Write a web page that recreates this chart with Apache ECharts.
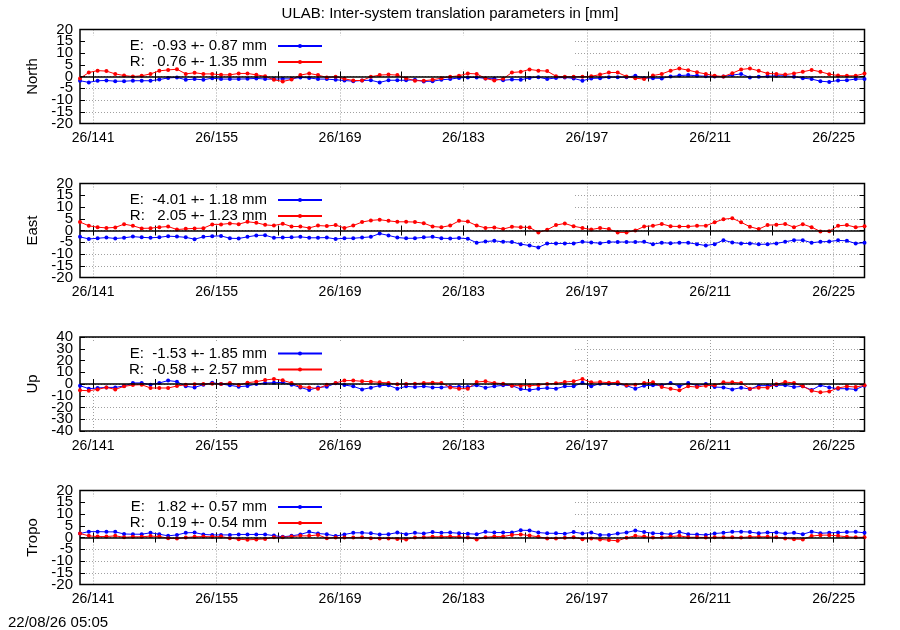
<!DOCTYPE html>
<html>
<head>
<meta charset="utf-8">
<script src="https://cdn.jsdelivr.net/npm/echarts@6/dist/echarts.min.js"></script>
<style>
html, body { margin: 0; padding: 0; background: #fff; }
#chart { width: 900px; height: 630px; }
</style>
</head>
<body>
<div id="chart"></div>
<script>
// day of year (noon), 2026
var days = [139.5, 140.5, 141.5, 142.5, 143.5, 144.5, 145.5, 146.5, 147.5, 148.5,
    149.5, 150.5, 151.5, 152.5, 153.5, 154.5, 155.5, 156.5, 157.5, 158.5,
    159.5, 160.5, 161.5, 162.5, 163.5, 164.5, 165.5, 166.5, 167.5, 168.5,
    169.5, 170.5, 171.5, 172.5, 173.5, 174.5, 175.5, 176.5, 177.5, 178.5,
    179.5, 180.5, 181.5, 182.5, 183.5, 184.5, 185.5, 186.5, 187.5, 188.5,
    189.5, 190.5, 191.5, 192.5, 193.5, 194.5, 195.5, 196.5, 197.5, 198.5,
    199.5, 200.5, 201.5, 202.5, 203.5, 204.5, 205.5, 206.5, 207.5, 208.5,
    209.5, 210.5, 211.5, 212.5, 213.5, 214.5, 215.5, 216.5, 217.5, 218.5,
    219.5, 220.5, 221.5, 222.5, 223.5, 224.5, 225.5, 226.5, 227.5, 228.5];
var xTicks = [141, 148, 155, 162, 169, 176, 183, 190, 197, 204, 211, 218, 225];
var xLabels = [141, 155, 169, 183, 197, 211, 225];
var yLabels20 = [-20, -15, -10, -5, 0, 5, 10, 15, 20];
var yLabels40 = [-40, -30, -20, -10, 0, 10, 20, 30, 40];

var northE = [-1.8, -2.5, -1.8, -1.7, -2.0, -2.0, -1.8, -1.8, -1.8, -1.3,
    -0.6, -0.4, -1.4, -1.1, -1.4, -0.7, -1.1, -1.1, -1.1, -1.0,
    -0.8, -1.1, -1.1, -1.0, -1.0, -0.4, -0.6, -1.1, -1.1, -1.4,
    -1.7, -2.0, -1.7, -1.6, -2.5, -1.6, -1.6, -1.6, -1.4, -2.1,
    -2.0, -1.4, -1.1,
    -0.6, -0.4, -0.4, -0.8, -1.0, -1.6, -1.3, -1.4, -0.6, -0.3,
    -1.1, -0.6, -0.4, -0.8, -1.8, -0.8, -0.7, -0.3, -0.3, -0.3,
    0.3, -0.6, -0.7, -0.8, 0, 0.4, 0.6, 0.3, 0.1, 0,
    0, 0.6, 1.1, -0.4, -0.1, 0.1, 0.3, 0.3, -0.1, -0.7,
    -1.1, -2.0, -2.3, -1.7, -1.6, -1.1, -1.1];
var northR = [-0.8, 1.7, 2.5, 2.3, 1.1, 0.4, 0, 0.3, 1.1, 2.4,
    2.8, 3.1, 1.1, 1.6, 1.1, 1.1, 0.7, 0.7, 1.3, 1.3,
    0.7, 0.1, -1.4, -2.1, -1.3, 0.6, 1.3, 0.6, -0.4, -0.1,
    -1.0, -1.7, -1.7, -0.1, 0.6, 0.8, 0.6, -0.8, -1.8, -1.8,
    -1.4, -0.7, -0.1,
    0.3, 1.3, 1.1, -0.8, -1.7, -1.0, 1.7, 2.0, 3.0, 2.5,
    2.3, 0.1, -0.1, -0.1, -0.1, 0.1, 0.8, 1.7, 1.7, 0,
    -0.7, -1.1, 0.4, 1.1, 2.5, 3.4, 2.7, 1.8, 1.1, 0.3,
    0, 1.4, 3.0, 3.4, 2.4, 1.3, 1.1, 0.8, 1.3, 2.0,
    2.8, 2.0, 1.0, 0.4, 0.3, 0.3, 1.3];
var eastE = [-2.7, -3.6, -3.3, -3.0, -3.4, -3.1, -2.6, -2.9, -3.1, -2.9,
    -2.4, -2.6, -2.9, -3.7, -2.7, -2.4, -2.3, -3.3, -3.4, -2.7,
    -2.1, -2.0, -3.1, -3.0, -2.9, -2.7, -3.1, -3.1, -3.0, -3.6,
    -3.3, -3.3, -3.0, -2.7, -1.3, -2.1, -3.0, -3.3, -3.3, -2.9,
    -2.7, -3.3, -3.4,
    -3.2, -3.5, -5.2, -4.7, -4.4, -4.8, -4.9, -5.8, -6.4, -7.2,
    -5.5, -5.5, -5.5, -5.5, -4.8, -5.1, -5.4, -4.9, -4.9, -4.9,
    -4.9, -4.8, -5.8, -5.2, -5.4, -5.2, -5.2, -5.8, -6.4, -5.8,
    -4.1, -5.1, -5.5, -5.5, -5.9, -5.8, -5.5, -4.8, -4.1, -4.1,
    -5.2, -4.8, -4.7, -4.2, -4.4, -5.5, -5.2];
var eastR = [3.6, 2.0, 1.4, 1.1, 1.3, 2.7, 2.0, 0.9, 1.0, 1.4,
    1.7, 0.4, 0.7, 0.9, 1.0, 2.6, 2.6, 3.0, 2.7, 3.7,
    3.3, 2.4, 2.1, 2.9, 1.7, 1.7, 1.1, 2.1, 1.9, 2.3,
    1.1, 2.1, 3.6, 4.3, 4.6, 4.1, 3.7, 3.7, 3.6, 3.1,
    1.7, 1.4, 2.1,
    4.1, 3.8, 2.1, 1.1, 1.3, 0.6, 1.6, 1.4, 1.3, -0.8,
    0.3, 2.3, 3.0, 1.8, 1.1, 0.4, 1.1, 0.6, -0.8, -0.8,
    0, 1.7, 2.0, 2.8, 1.8, 1.7, 1.7, 2.0, 2.0, 3.5,
    4.8, 5.2, 3.5, 1.6, 0.6, 2.3, 2.4, 2.8, 1.4, 2.7,
    1.4, -0.4, -0.3, 2.0, 2.3, 1.4, 1.8];
var upE = [-1.4, -4.0, -3.4, -2.9, -2.9, -1.7, 0.9, 0.9, -0.6, 0.9,
    2.9, 2.0, -2.0, -2.9, -0.6, 1.1, 0, -1.1, -2.3, -1.7,
    0, 0.9, 1.1, 1.4, -0.6, -2.9, -5.1, -2.9, -2.3, 0.6,
    -0.9, -2.0, -4.6, -3.1, -1.4, -1.1, -4.0, -2.0, -2.6, -2.0,
    -2.9, -2.9, -2.3,
    -2.3, -2.6, -1.1, -3.1, -2.0, -1.1, -1.4, -4.3, -5.1, -4.0,
    -3.4, -4.0, -2.0, -2.0, 1.1, -2.0, 0.3, 0, 0, -1.4,
    -4.0, -1.4, -1.1, -1.1, 0.9, -2.0, 0.9, -1.4, 0, -2.6,
    -2.9, -4.6, -3.1, -4.3, -1.4, -1.4, -1.1, -1.1, -2.6, -2.0,
    -5.1, -1.1, -2.9, -4.0, -4.0, -4.6, -1.4];
var upR = [-5.4, -5.7, -4.6, -2.9, -4.6, -2.0, -0.9, -0.6, -3.4, -3.4,
    -3.4, -1.7, -0.6, -0.3, 0, 0.3, 0, 0.9, -0.9, 1.1,
    2.0, 3.4, 4.3, 3.1, 0.9, -2.3, -2.9, -4.0, -0.6, 0.9,
    2.9, 2.9, 2.3, 2.0, 1.4, 0.9, -0.3, 0, 0.3, 0.9,
    1.1, 0.9, -2.9,
    -4.0, -4.0, 1.7, 2.3, 0.9, 0.3, -1.4, -1.4, -1.4, -0.9,
    0, 0.6, 1.7, 2.3, 4.3, 1.4, 1.7, 1.1, 1.4, -1.1,
    -0.6, 0.9, 1.4, -2.6, -4.0, -5.4, -2.0, -2.6, -1.4, -1.1,
    1.4, 1.4, 0.9, -4.0, -3.1, -3.1, -0.3, 1.7, 0.9, -2.0,
    -5.7, -7.1, -6.3, -3.4, -2.0, -2.6, -1.1];
var tropoE = [1.7, 2.5, 2.5, 2.4, 2.4, 1.5, 1.4, 1.4, 2.0, 1.4,
    0.7, 1.1, 2.0, 2.1, 1.3, 1.1, 1.1, 1.1, 1.3, 1.3,
    1.3, 1.3, 0.8, 0.3, 0.7, 1.3, 2.4, 1.7, 1.4, 0.6,
    1.3, 2.0, 2.0, 1.8, 1.3, 1.4, 2.1, 1.4, 2.0, 1.7,
    2.3, 2.0, 2.1,
    1.8, 1.6, 1.4, 2.4, 2.1, 2.1, 2.1, 3.1, 3.0, 2.1,
    1.8, 1.8, 1.6, 2.3, 1.7, 2.1, 1.1, 1.1, 1.7, 2.1,
    3.0, 2.3, 1.8, 1.7, 1.4, 2.3, 1.4, 1.3, 1.1, 1.7,
    2.0, 2.4, 2.5, 2.3, 1.8, 2.1, 2.1, 1.7, 2.0, 1.4,
    2.5, 1.8, 2.0, 2.1, 2.3, 2.4, 2.0];
var tropoR = [1.7, 0.7, 0.4, 0.4, 0.7, 0.1, 0.3, 0.3, 0.6, 0.4,
    -0.3, -0.4, 0, 0.3, 0.4, 0.3, 0.4, -0.3, -0.7, -1.0,
    -0.8, -0.6, 0.1, 0.1, 0.4, 0.7, 0.7, 1.1, -0.3, 0,
    0, 0, 0.1, -0.3, -0.4, -0.4, -0.6, -0.8, 0, 0.1,
    0.3, 0.3, 0.4,
    0.3, 0, -0.8, 0.1, 0.4, 0.4, 1.1, 1.3, 0.8, 0.3,
    -0.4, -0.4, -0.1, 0.1, -0.7, -0.4, -0.8, -1.1, -1.4, -0.1,
    0.7, 0.4, 0, 0, 0.4, 0.7, 0.1, 0.1, 0, 0.1,
    0.1, 0.1, 0, 0.3, 0.3, 0.3, 0.1, -0.4, -0.7, -0.8,
    0.6, 1.0, 1.0, 0.7, 0.3, 0.1, 0.1];

var panelNames = ['North', 'East', 'Up', 'Tropo'];
var eNames = ['E:  -0.93 +- 0.87 mm', 'E:  -4.01 +- 1.18 mm', 'E:  -1.53 +- 1.85 mm', 'E:   1.82 +- 0.57 mm'];
var rNames = ['R:   0.76 +- 1.35 mm', 'R:   2.05 +- 1.23 mm', 'R:  -0.58 +- 2.57 mm', 'R:   0.19 +- 0.54 mm'];
var yLabels = [yLabels20, yLabels20, yLabels40, yLabels20];
var eData = [northE, eastE, upE, tropoE];
var rData = [northR, eastR, upR, tropoR];

var panelTops = [29.5, 183.5, 337, 490.5];
var panelHeight = 94;
var font = 'Liberation Sans';
var gridDots = { color: '#a0a0a0', width: 1, type: [1, 2] };
var labelStyle = { fontSize: 15, fontFamily: font, color: '#000', margin: 7 };

function pairs(vals) {
    return days.map(function(d, j) {
        return [d, vals[j]];
    });
}

// every other label, so neighbouring labels on one axis never collide
function everyOther(list, start) {
    return list.filter(function(v, k) { return k % 2 === start; });
}

var grids = [], xAxes = [], yAxes = [], series = [], legends = [], graphics = [];

panelNames.forEach(function(name, i) {
    var top = panelTops[i];
    var labels = yLabels[i];
    var yMin = labels[0];
    var yMax = labels[labels.length - 1];
    var yStep = labels[1] - labels[0];
    // z above the axes so the frame covers the grid lines at the edges
    grids.push({
        left: 80,
        right: 35.5,
        top: top,
        height: panelHeight,
        show: true,
        z: 1,
        borderColor: '#000',
        borderWidth: 1.5,
        backgroundColor: 'transparent'
    });
    // bottom axis: ticks every week, labels every two weeks
    xAxes.push({
        gridIndex: i,
        type: 'value',
        min: 139.5,
        max: 228.5,
        position: 'bottom',
        axisLine: { show: false },
        axisTick: { inside: true, length: 5, customValues: xTicks, lineStyle: { color: '#000' } },
        axisLabel: {
            customValues: xLabels,
            formatter: function(v) { return '26/' + v; },
            fontSize: 14,
            fontFamily: font,
            color: '#000',
            margin: 8
        },
        splitLine: { show: false }
    });
    // mirrored ticks on top
    xAxes.push({
        gridIndex: i,
        type: 'value',
        min: 139.5,
        max: 228.5,
        position: 'top',
        axisLine: { show: false },
        axisTick: { inside: true, length: 5, customValues: xTicks, lineStyle: { color: '#000' } },
        axisLabel: { show: false },
        splitLine: { show: false }
    });
    // grid lines at the labelled days only
    xAxes.push({
        gridIndex: i,
        type: 'value',
        min: 139.5,
        max: 228.5,
        position: 'bottom',
        axisLine: { show: false },
        axisTick: { show: true, length: 0, customValues: xLabels, lineStyle: { opacity: 0 } },
        axisLabel: { show: false },
        splitLine: { show: true, lineStyle: gridDots }
    });
    yAxes.push({
        gridIndex: i,
        type: 'value',
        min: yMin,
        max: yMax,
        interval: yStep,
        position: 'left',
        name: name,
        nameLocation: 'middle',
        nameGap: 40,
        nameTextStyle: { fontSize: 15, fontFamily: font, color: '#000' },
        axisLine: { show: false },
        axisTick: { inside: true, length: 5, lineStyle: { color: '#000' } },
        axisLabel: Object.assign({ customValues: everyOther(labels, 0) }, labelStyle),
        splitLine: { show: true, lineStyle: gridDots }
    });
    yAxes.push({
        gridIndex: i,
        type: 'value',
        min: yMin,
        max: yMax,
        interval: yStep,
        position: 'left',
        axisLine: { show: false },
        axisTick: { show: false },
        axisLabel: Object.assign({ customValues: everyOther(labels, 1) }, labelStyle),
        splitLine: { show: false }
    });
    yAxes.push({
        gridIndex: i,
        type: 'value',
        min: yMin,
        max: yMax,
        interval: yStep,
        position: 'right',
        axisLine: { show: false },
        axisTick: { inside: true, length: 5, lineStyle: { color: '#000' } },
        axisLabel: { show: false },
        splitLine: { show: false }
    });
    series.push({
        name: eNames[i],
        type: 'line',
        xAxisIndex: 3 * i,
        yAxisIndex: 3 * i,
        data: pairs(eData[i]),
        symbol: 'circle',
        symbolSize: 4,
        lineStyle: { color: '#0000ff', width: 1 },
        itemStyle: { color: '#0000ff' },
        markLine: {
            silent: true,
            symbol: 'none',
            label: { show: false },
            lineStyle: { color: '#000', width: 1.5, type: 'solid' },
            data: [{ yAxis: 0 }]
        }
    });
    series.push({
        name: rNames[i],
        type: 'line',
        xAxisIndex: 3 * i,
        yAxisIndex: 3 * i,
        data: pairs(rData[i]),
        symbol: 'circle',
        symbolSize: 4,
        lineStyle: { color: '#ff0000', width: 1 },
        itemStyle: { color: '#ff0000' }
    });
    legends.push({
        data: [eNames[i], rNames[i]],
        orient: 'vertical',
        align: 'right',
        right: 577,
        top: top + 8.5,
        padding: 0,
        itemGap: 0,
        itemWidth: 44,
        itemHeight: 5,
        selectedMode: false,
        textStyle: { fontSize: 15, fontFamily: font, color: '#000', lineHeight: 16, padding: [0, 6, 0, 0] }
    });
    // opaque key box hides the grid behind it
    graphics.push({
        type: 'rect',
        left: 86,
        top: top + 6,
        shape: { width: 487, height: 34 },
        style: { fill: '#fff' },
        z: 1,
        silent: true
    });
});

graphics.push({
    type: 'text',
    left: 8,
    top: 615,
    style: { text: '22/08/26 05:05', font: '15px "Liberation Sans"', fill: '#000' }
});

var chart = echarts.init(document.getElementById('chart'));
chart.setOption({
    animation: false,
    backgroundColor: '#fff',
    title: {
        text: 'ULAB: Inter-system translation parameters in [mm]',
        left: 'center',
        top: 6,
        padding: 0,
        textStyle: { fontSize: 15, fontWeight: 'normal', fontFamily: font, color: '#000' }
    },
    grid: grids,
    xAxis: xAxes,
    yAxis: yAxes,
    legend: legends,
    graphic: graphics,
    series: series
});
</script>
</body>
</html>
